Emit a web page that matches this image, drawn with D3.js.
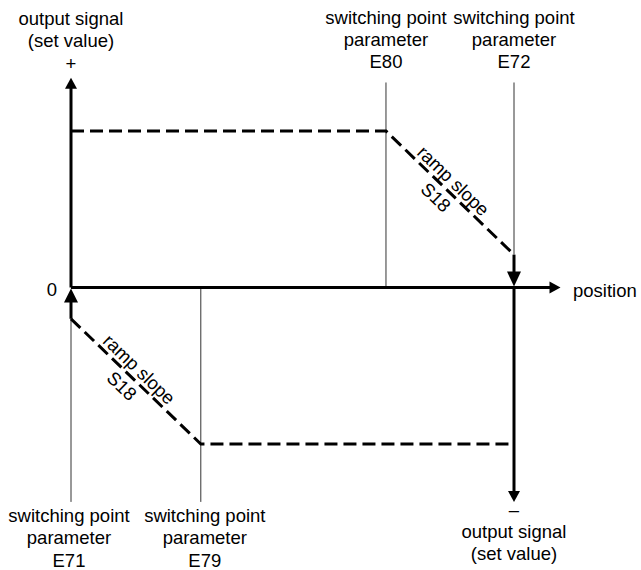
<!DOCTYPE html>
<html>
<head>
<meta charset="utf-8">
<script src="https://cdn.jsdelivr.net/npm/d3@7"></script>
<style>
  body { margin: 0; background: #fff; }
  text { font-family: "Liberation Sans", Arial, Helvetica, sans-serif; font-size: 18.5px; fill: #000; }
</style>
</head>
<body>
<div id="chart"></div>
<script>
// switching points on the position axis (arbitrary units)
var switchNames = ['E71', 'E79', 'E80', 'E72'];
var switchPos = [0, 2.93, 7.11, 10];
var axisEnd = 11.05;

// output signal levels (1 = set value)
var upperCurve = [[0, 1], [7.11, 1], [10, 0.21]];
var lowerCurve = [[0, -0.2], [2.93, -1], [10, -1]];

var topLabels = ['output signal', '(set value)', '+'];
var bottomLabels = ['–', 'output signal', '(set value)'];
var switchLines = ['switching point', 'parameter'];
var rampLabels = ['ramp slope', 'S18'];

(function(d3) {
	'use strict';

	var width = 641;
	var height = 570;

	var x = d3.scaleLinear().domain([0, 10]).range([71, 514]);
	var y = d3.scaleLinear().domain([-1, 1]).range([444, 131]);

	var svg = d3.select('#chart')
		.append('svg')
		.attr('width', width)
		.attr('height', height);

	var line = d3.line()
		.x(function(d) { return x(d[0]); })
		.y(function(d) { return y(d[1]); });

	// arrowhead: tip at (tx, ty), pointing in direction dir
	function arrowHead(tx, ty, dir, w, l) {
		var pts;
		if (dir == 'up') pts = [[tx, ty], [tx - w / 2, ty + l], [tx + w / 2, ty + l]];
		if (dir == 'down') pts = [[tx, ty], [tx - w / 2, ty - l], [tx + w / 2, ty - l]];
		if (dir == 'right') pts = [[tx, ty], [tx - l, ty - w / 2], [tx - l, ty + w / 2]];
		svg.append('path')
			.attr('d', 'M' + pts.join('L') + 'Z')
			.attr('fill', '#000');
	}

	var y0 = y(0);
	var yTop = y(1.34);
	var yBottom = y(-1.37);

	// thin switching point lines
	var thin = [
		[x(switchPos[2]), y(1.31), y0],
		[x(switchPos[3]), y(1.31), y(upperCurve[2][1])],
		[x(switchPos[0]), y(lowerCurve[0][1]), yBottom],
		[x(switchPos[1]), y0, yBottom]
	];
	svg.selectAll('.thin')
		.data(thin)
		.enter()
		.append('line')
		.attr('class', 'thin')
		.attr('x1', function(d) { return d[0]; })
		.attr('x2', function(d) { return d[0]; })
		.attr('y1', function(d) { return d[1]; })
		.attr('y2', function(d) { return d[2]; })
		.attr('stroke', '#333')
		.attr('stroke-width', 1);

	// axes
	var thick = [
		[x(0), yTop + 8, x(0), y0],
		[x(0), y0, x(axisEnd) - 8, y0],
		[x(10), y0, x(10), yBottom - 8],
		[x(10), y(upperCurve[2][1]), x(10), y0 - 12],
		[x(0), y(lowerCurve[0][1]), x(0), y0 + 10]
	];
	svg.selectAll('.thick')
		.data(thick)
		.enter()
		.append('line')
		.attr('class', 'thick')
		.attr('x1', function(d) { return d[0]; })
		.attr('y1', function(d) { return d[1]; })
		.attr('x2', function(d) { return d[2]; })
		.attr('y2', function(d) { return d[3]; })
		.attr('stroke', '#000')
		.attr('stroke-width', 3);

	arrowHead(x(0), yTop, 'up', 12, 11);
	arrowHead(x(axisEnd), y0, 'right', 12, 11);
	arrowHead(x(10), yBottom, 'down', 12, 11);
	arrowHead(x(10), y0 - 1, 'down', 14, 15);
	arrowHead(x(0), y0 + 1, 'up', 14, 14);

	// dashed set value curves
	svg.selectAll('.curve')
		.data([upperCurve, lowerCurve])
		.enter()
		.append('path')
		.attr('class', 'curve')
		.attr('d', line)
		.attr('fill', 'none')
		.attr('stroke', '#000')
		.attr('stroke-width', 3)
		.attr('stroke-dasharray', '13,6');

	// ramp labels along the slopes
	[[upperCurve[1], upperCurve[2]], [lowerCurve[0], lowerCurve[1]]].forEach(function(seg) {
		var x1 = x(seg[0][0]), y1 = y(seg[0][1]);
		var x2 = x(seg[1][0]), y2 = y(seg[1][1]);
		var ang = Math.atan2(y2 - y1, x2 - x1);
		var mx = (x1 + x2) / 2, my = (y1 + y2) / 2;
		var g = svg.append('g')
			.attr('transform', 'translate(' + mx + ',' + my + ') rotate(' + (ang * 180 / Math.PI) + ')');
		g.append('text')
			.attr('x', -6)
			.attr('y', -11)
			.attr('text-anchor', 'middle')
			.attr('dominant-baseline', 'central')
			.text(rampLabels[0]);
		g.append('text')
			.attr('x', -7)
			.attr('y', 13)
			.attr('text-anchor', 'middle')
			.attr('dominant-baseline', 'central')
			.text(rampLabels[1]);
	});

	// text blocks
	function block(cx, baselines, lines) {
		lines.forEach(function(t, i) {
			svg.append('text')
				.attr('x', cx)
				.attr('y', baselines[i])
				.attr('text-anchor', 'middle')
				.text(t);
		});
	}

	block(x(0), [25, 47, 70], topLabels);
	block(x(switchPos[2]), [24, 46, 68], switchLines.concat([switchNames[2]]));
	block(x(switchPos[3]), [24, 46, 68], switchLines.concat([switchNames[3]]));
	block(x(switchPos[0]) - 2, [522, 544, 567], switchLines.concat([switchNames[0]]));
	block(x(switchPos[1]) + 4, [522, 544, 567], switchLines.concat([switchNames[1]]));
	block(x(10), [516, 538, 560], bottomLabels);

	svg.append('text')
		.attr('x', 52)
		.attr('y', y0 + 8)
		.attr('text-anchor', 'middle')
		.text('0');

	svg.append('text')
		.attr('x', 573)
		.attr('y', y0 + 9)
		.text('position');

})(window.d3);
</script>
</body>
</html>
